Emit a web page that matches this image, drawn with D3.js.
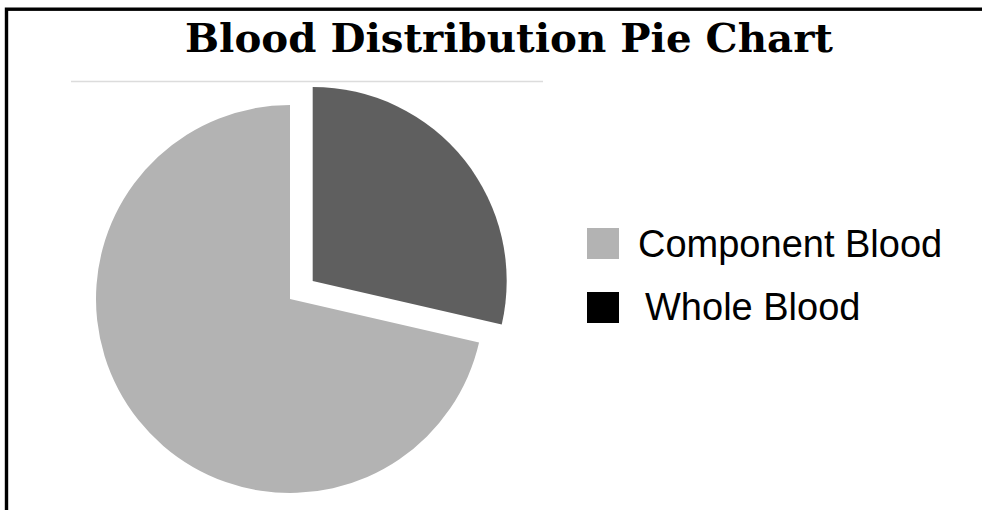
<!DOCTYPE html>
<html>
<head>
<meta charset="utf-8">
<script src="https://cdn.jsdelivr.net/npm/d3@7"></script>
<style>
  html, body { margin: 0; padding: 0; background: #fff; overflow: hidden; }
</style>
</head>
<body>
<script>
// data
const categories = ["Component Blood", "Whole Blood"];
const values = [71.4, 28.6];
const sliceColors = ["#b3b3b3", "#5f5f5f"];
const legendColors = ["#b3b3b3", "#000000"];

// layout
const w = 982;
const h = 510;
const cx = 290;
const cy = 299;
const radius = 194;
const explode = 29;

const svg = d3.select("body").append("svg").attr("width", w).attr("height", h);

svg.append("rect").attr("width", w).attr("height", h).attr("fill", "#fff");

// frame (runs off the right and bottom edge)
svg
  .append("rect")
  .attr("x", 6.5)
  .attr("y", 9.2)
  .attr("width", 1100)
  .attr("height", 700)
  .attr("fill", "none")
  .attr("stroke", "#000")
  .attr("stroke-width", 3.4);

// title
svg
  .append("text")
  .attr("x", 185)
  .attr("y", 52)
  .attr("textLength", 648)
  .attr("lengthAdjust", "spacingAndGlyphs")
  .style("font-family", "'DejaVu Serif', serif")
  .style("font-weight", "bold")
  .style("font-size", "39px")
  .attr("fill", "#000")
  .text("Blood Distribution Pie Chart");

// thin rule under title
svg
  .append("line")
  .attr("x1", 71)
  .attr("x2", 543)
  .attr("y1", 81.5)
  .attr("y2", 81.5)
  .attr("stroke", "#dcdcdc")
  .attr("stroke-width", 1.5);

// pie
const pie = d3.pie().sort(null).startAngle(0).endAngle(2 * Math.PI);
// draw Whole Blood first from 12 o'clock, Component after it
const order = [1, 0];
const arcs = pie(order.map((i) => values[i]));
const arc = d3.arc().innerRadius(0).outerRadius(radius);

const g = svg.append("g").attr("transform", `translate(${cx},${cy})`);

g.selectAll("path")
  .data(arcs)
  .enter()
  .append("path")
  .attr("d", arc)
  .attr("fill", (d, i) => sliceColors[order[i]])
  .attr("transform", (d, i) => {
    if (order[i] !== 1) return null;
    const mid = (d.startAngle + d.endAngle) / 2;
    return `translate(${Math.sin(mid) * explode},${-Math.cos(mid) * explode})`;
  });

// legend
const legend = svg.append("g");
const rows = [
  { sy: 228, ty: 257, tx: 638 },
  { sy: 292, ty: 320, tx: 645 },
];

categories.forEach((c, i) => {
  legend
    .append("rect")
    .attr("x", 587)
    .attr("y", rows[i].sy)
    .attr("width", 32)
    .attr("height", 31)
    .attr("fill", legendColors[i]);
  legend
    .append("text")
    .attr("x", rows[i].tx)
    .attr("y", rows[i].ty)
    .style("font-family", "'Liberation Sans', Arial, sans-serif")
    .style("font-size", "38px")
    .attr("fill", "#000")
    .text(c);
});
</script>
</body>
</html>
